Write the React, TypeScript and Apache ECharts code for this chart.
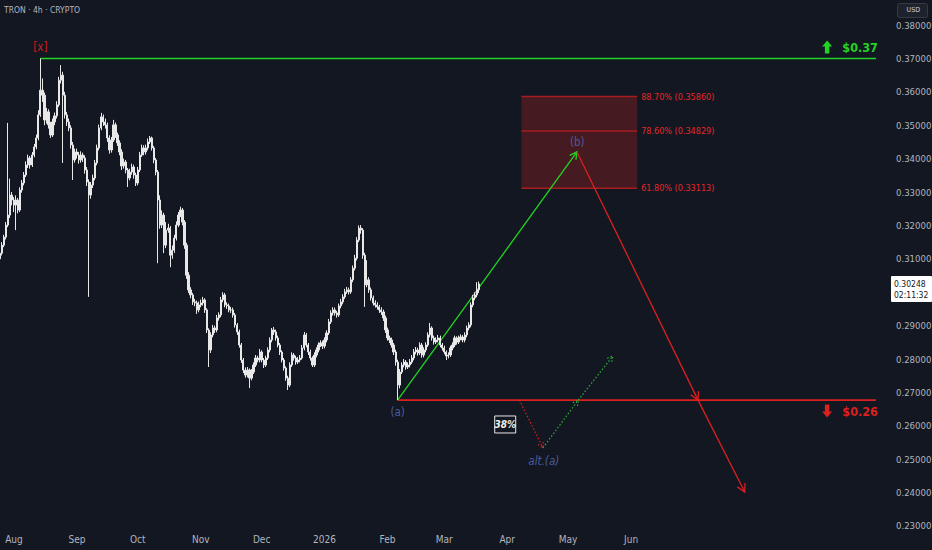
import React, { useEffect, useRef } from "react";
import * as echarts from "echarts";

// ---------------- data ----------------
const DAY = 86400000;
const START_DATE = "2025-07-25";
const FIRST_OPEN = 0.31;

const closes = [
  0.3117, 0.3141, 0.3165, 0.3201, 0.3231, 0.3291, 0.3276,
  0.3261, 0.3276, 0.3246, 0.3306, 0.3327, 0.3351, 0.3381, 0.3402, 0.3381, 0.3411,
  0.3435, 0.3462, 0.3531, 0.3605, 0.3590, 0.3516, 0.3540, 0.3501, 0.3471, 0.3510,
  0.3528, 0.3561, 0.3635, 0.3650, 0.3590, 0.3531, 0.3510, 0.3492, 0.3441, 0.3396,
  0.3420, 0.3411, 0.3396, 0.3411, 0.3402, 0.3366, 0.3330, 0.3291, 0.3321, 0.3342,
  0.3387, 0.3432, 0.3492, 0.3525, 0.3510, 0.3501, 0.3462, 0.3426, 0.3456, 0.3501,
  0.3471, 0.3447, 0.3420, 0.3378, 0.3390, 0.3366, 0.3342, 0.3360, 0.3375, 0.3351,
  0.3327, 0.3366, 0.3411, 0.3432, 0.3420, 0.3432, 0.3450, 0.3462, 0.3432, 0.3396,
  0.3360, 0.3276, 0.3201, 0.3231, 0.3141, 0.3186, 0.3192, 0.3111, 0.3126, 0.3162,
  0.3201, 0.3231, 0.3246, 0.3210, 0.3141, 0.3051, 0.3007, 0.2992, 0.2971, 0.2968,
  0.2947, 0.2962, 0.2968, 0.2977, 0.2947, 0.2887, 0.2827, 0.2872, 0.2893, 0.2887,
  0.2923, 0.2932, 0.2977, 0.2992, 0.2962, 0.2959, 0.2947, 0.2947, 0.2932, 0.2902,
  0.2881, 0.2842, 0.2797, 0.2767, 0.2752, 0.2767, 0.2743, 0.2761, 0.2782, 0.2803,
  0.2797, 0.2821, 0.2797, 0.2782, 0.2803, 0.2827, 0.2857, 0.2887, 0.2881, 0.2863,
  0.2842, 0.2821, 0.2797, 0.2773, 0.2743, 0.2722, 0.2782, 0.2812, 0.2803, 0.2791,
  0.2797, 0.2803, 0.2833, 0.2872, 0.2842, 0.2821, 0.2803, 0.2782, 0.2812, 0.2827,
  0.2842, 0.2848, 0.2839, 0.2857, 0.2878, 0.2911, 0.2938, 0.2947, 0.2938, 0.2932,
  0.2959, 0.2971, 0.2986, 0.3001, 0.3007, 0.3001, 0.3037, 0.3072, 0.3102, 0.3156,
  0.3192, 0.3186, 0.3111, 0.3022, 0.3037, 0.3007, 0.2983, 0.2968, 0.2962, 0.2956,
  0.2947, 0.2941, 0.2923, 0.2887, 0.2863, 0.2857, 0.2842, 0.2821, 0.2791, 0.2722,
  0.2761, 0.2782, 0.2791, 0.2776, 0.2782, 0.2791, 0.2803, 0.2821, 0.2827, 0.2818,
  0.2842, 0.2812, 0.2827, 0.2842, 0.2872, 0.2893, 0.2863, 0.2851, 0.2857, 0.2863,
  0.2842, 0.2833, 0.2821, 0.2809, 0.2812, 0.2833, 0.2842, 0.2863, 0.2851, 0.2863,
  0.2866, 0.2857, 0.2872, 0.2893, 0.2902, 0.2962, 0.2983, 0.2992, 0.3007, 0.30248,
];

const highs = [
  0.3125, 0.3150, 0.3172, 0.3210, 0.3507, 0.3340, 0.3300,
  0.3285, 0.3290, 0.3282, 0.3314, 0.3336, 0.3360, 0.3392, 0.3412, 0.3408, 0.3420,
  0.3444, 0.3472, 0.3545, 0.3700, 0.3640, 0.3598, 0.3552, 0.3548, 0.3510, 0.3520,
  0.3538, 0.3572, 0.3645, 0.3680, 0.3660, 0.3600, 0.3540, 0.3520, 0.3500, 0.3450,
  0.3430, 0.3430, 0.3420, 0.3422, 0.3418, 0.3410, 0.3375, 0.3338, 0.3330, 0.3352,
  0.3396, 0.3442, 0.3502, 0.3537, 0.3532, 0.3520, 0.3508, 0.3470, 0.3465, 0.3516,
  0.3508, 0.3478, 0.3455, 0.3428, 0.3400, 0.3396, 0.3372, 0.3370, 0.3385, 0.3382,
  0.3358, 0.3375, 0.3420, 0.3442, 0.3440, 0.3442, 0.3460, 0.3468, 0.3466, 0.3438,
  0.3402, 0.3366, 0.3290, 0.3245, 0.3238, 0.3210, 0.3205, 0.3198, 0.3140, 0.3172,
  0.3212, 0.3240, 0.3256, 0.3252, 0.3216, 0.3148, 0.3060, 0.3015, 0.2998, 0.2980,
  0.2975, 0.2972, 0.2978, 0.2986, 0.2982, 0.2952, 0.2892, 0.2880, 0.2902, 0.2900,
  0.2932, 0.2940, 0.2986, 0.3000, 0.2998, 0.2970, 0.2966, 0.2956, 0.2954, 0.2938,
  0.2908, 0.2888, 0.2848, 0.2803, 0.2775, 0.2776, 0.2772, 0.2770, 0.2790, 0.2812,
  0.2810, 0.2830, 0.2826, 0.2803, 0.2810, 0.2835, 0.2865, 0.2893, 0.2896, 0.2888,
  0.2870, 0.2848, 0.2826, 0.2803, 0.2778, 0.2750, 0.2790, 0.2820, 0.2818, 0.2810,
  0.2806, 0.2812, 0.2842, 0.2881, 0.2878, 0.2848, 0.2828, 0.2808, 0.2820, 0.2835,
  0.2850, 0.2856, 0.2855, 0.2865, 0.2886, 0.2920, 0.2946, 0.2955, 0.2954, 0.2944,
  0.2966, 0.2980, 0.2994, 0.3010, 0.3016, 0.3014, 0.3045, 0.3080, 0.3112, 0.3165,
  0.3200, 0.3201, 0.3192, 0.3118, 0.3096, 0.3045, 0.3014, 0.2990, 0.2976, 0.2970,
  0.2962, 0.2955, 0.2948, 0.2930, 0.2894, 0.2870, 0.2864, 0.2848, 0.2828, 0.2798,
  0.2770, 0.2790, 0.2800, 0.2797, 0.2790, 0.2800, 0.2812, 0.2830, 0.2836, 0.2834,
  0.2850, 0.2848, 0.2835, 0.2850, 0.2880, 0.2908, 0.2898, 0.2870, 0.2865, 0.2872,
  0.2870, 0.2848, 0.2840, 0.2826, 0.2820, 0.2840, 0.2850, 0.2870, 0.2868, 0.2870,
  0.2874, 0.2872, 0.2880, 0.2900, 0.2910, 0.2970, 0.2992, 0.3000, 0.3030, 0.3032,
];

const lows = [
  0.3092, 0.3110, 0.3135, 0.3158, 0.3195, 0.3222, 0.3260,
  0.3240, 0.3186, 0.3236, 0.3240, 0.3298, 0.3320, 0.3345, 0.3372, 0.3370, 0.3375,
  0.3404, 0.3428, 0.3455, 0.3525, 0.3570, 0.3500, 0.3505, 0.3490, 0.3462, 0.3465,
  0.3500, 0.3520, 0.3555, 0.3625, 0.3387, 0.3520, 0.3498, 0.3482, 0.3430, 0.3336,
  0.3388, 0.3400, 0.3385, 0.3388, 0.3390, 0.3355, 0.3318, 0.2986, 0.3280, 0.3312,
  0.3335, 0.3380, 0.3425, 0.3485, 0.3498, 0.3490, 0.3450, 0.3415, 0.3418, 0.3450,
  0.3462, 0.3438, 0.3410, 0.3366, 0.3370, 0.3356, 0.3315, 0.3335, 0.3352, 0.3340,
  0.3318, 0.3320, 0.3360, 0.3405, 0.3410, 0.3412, 0.3425, 0.3444, 0.3424, 0.3386,
  0.3350, 0.3087, 0.3190, 0.3192, 0.3117, 0.3132, 0.3178, 0.3075, 0.3100, 0.3118,
  0.3155, 0.3195, 0.3225, 0.3200, 0.3130, 0.3040, 0.2998, 0.2982, 0.2962, 0.2958,
  0.2935, 0.2940, 0.2955, 0.2960, 0.2938, 0.2878, 0.2776, 0.2818, 0.2865, 0.2878,
  0.2880, 0.2915, 0.2925, 0.2970, 0.2955, 0.2950, 0.2940, 0.2938, 0.2924, 0.2894,
  0.2872, 0.2834, 0.2788, 0.2758, 0.2744, 0.2745, 0.2713, 0.2736, 0.2755, 0.2776,
  0.2790, 0.2790, 0.2790, 0.2773, 0.2776, 0.2797, 0.2820, 0.2850, 0.2872, 0.2855,
  0.2835, 0.2812, 0.2790, 0.2765, 0.2735, 0.2707, 0.2716, 0.2776, 0.2795, 0.2783,
  0.2785, 0.2790, 0.2798, 0.2826, 0.2835, 0.2812, 0.2795, 0.2776, 0.2776, 0.2805,
  0.2820, 0.2836, 0.2830, 0.2832, 0.2850, 0.2872, 0.2905, 0.2930, 0.2930, 0.2924,
  0.2926, 0.2952, 0.2964, 0.2980, 0.2995, 0.2993, 0.2995, 0.3030, 0.3065, 0.3095,
  0.3150, 0.3175, 0.3100, 0.2956, 0.3015, 0.2998, 0.2975, 0.2960, 0.2954, 0.2948,
  0.2938, 0.2932, 0.2914, 0.2878, 0.2855, 0.2848, 0.2834, 0.2812, 0.2780, 0.2677,
  0.2712, 0.2755, 0.2775, 0.2768, 0.2770, 0.2775, 0.2785, 0.2796, 0.2814, 0.2810,
  0.2812, 0.2804, 0.2805, 0.2820, 0.2836, 0.2865, 0.2855, 0.2843, 0.2845, 0.2850,
  0.2835, 0.2825, 0.2814, 0.2797, 0.2802, 0.2806, 0.2826, 0.2836, 0.2843, 0.2845,
  0.2856, 0.2850, 0.2850, 0.2865, 0.2886, 0.2895, 0.2955, 0.2976, 0.2985, 0.2998,
];

const LAST_PRICE = 0.30248;
const COUNTDOWN = "02:11:32";
const TITLE = "TRON · 4h · CRYPTO";
const CURRENCY = "USD";

const X_RANGE = ["2025-07-25T02:30:00Z", "2026-10-05T14:00:00Z"];
const Y_RANGE = [0.2294, 0.3875];
const xTickDates = [
  "2025-08-01", "2025-09-01", "2025-10-01", "2025-11-01", "2025-12-01", "2026-01-01",
  "2026-02-01", "2026-03-01", "2026-04-01", "2026-05-01", "2026-06-01",
];
const xTickLabels = ["Aug", "Sep", "Oct", "Nov", "Dec", "2026", "Feb", "Mar", "Apr", "May", "Jun"];
// 0.30000 is hidden under the last-price tag in the reference
const yTicks = [0.38, 0.37, 0.36, 0.35, 0.34, 0.33, 0.32, 0.31, 0.29, 0.28, 0.27, 0.26, 0.25, 0.24, 0.23];

// horizontal levels: resistance (green) and support (red)
const levelPrices = [0.37, 0.2677];
const levelStarts = ["2025-08-14", "2026-02-06"];
const LEVEL_END = "2026-09-29T16:00:00Z";

// fibonacci zone
const fibRatios = ["88.70%", "78.60%", "61.80%"];
const fibPrices = [0.3586, 0.34829, 0.33113];
const fibZone = ["2026-04-08", "2026-06-04"];

// main projected path (a) -> (b) -> down
const projectionPath: [string, number][] = [
  ["2026-02-06", 0.2677],
  ["2026-05-05T08:00:00Z", 0.342],
  ["2026-07-04", 0.2677],
  ["2026-07-27", 0.2402],
];
// alternative path (dotted)
const altPath: [string, number][] = [
  ["2026-04-07", 0.2677],
  ["2026-04-18T14:00:00Z", 0.2534],
  ["2026-05-06", 0.2677],
  ["2026-05-23", 0.2809],
];

const waveLabelTexts = ["[x]", "(a)", "(b)", "alt.(a)"];
const waveLabelDates = ["2025-08-14", "2026-02-06", "2026-05-05T12:00:00Z", "2026-04-19"];
const waveLabelPrices = [0.3733, 0.2641, 0.345, 0.2495];

const ALT_PROBABILITY = "38%";
const altProbDate = "2026-03-31";
const altProbPrice = 0.2604;

const targetTexts = ["$0.37", "$0.26"];
const targetLabelPrices = [0.3734, 0.2644];
const TARGET_ARROW_DATE = "2026-09-05T14:00:00Z";
const TARGET_TEXT_DATE = "2026-09-21T20:00:00Z";

// ---------------- styles ----------------
const BG = "#131722";
const GREEN = "#22d422";
const RED = "#dc1f1f";
const FIB_LINE = "#a61d1f";
const FIB_FILL = "#461a21";
const FIB_TEXT = "#e82626";
const WAVE_BLUE = "#4a5c9c";
const WAVE_RED = "#c81e1e";
const CANDLE = "#e8e8e8";
const AXIS_TEXT = "#b2b5be";
const NARROW = "'Liberation Sans Narrow','DejaVu Sans Condensed','Roboto Condensed',Roboto,sans-serif";

const T = (s: string) => Date.parse(s);

export default function App() {
  const ref = useRef<HTMLDivElement>(null);

  useEffect(() => {
    const chart = echarts.init(ref.current!, null, { renderer: "svg" });
    const t0 = T(START_DATE);
    const candles = closes.map((c, i) => [
      t0 + i * DAY,
      i === 0 ? FIRST_OPEN : closes[i - 1],
      c,
      lows[i],
      highs[i],
    ]);

    const xTickValues = xTickDates.map(T);

    // segments: [t1, p1, t2, p2, styleIdx]
    const segStyles = [
      { color: GREEN, width: 1.3, dash: null as any, head: 8 },
      { color: RED, width: 1.3, dash: null as any, head: 9 },
      { color: RED, width: 1.2, dash: [1.5, 2], head: 6 },
      { color: "#2fae3a", width: 1.2, dash: [1.5, 2], head: 6 },
    ];
    const segments: number[][] = [];
    for (let i = 0; i < projectionPath.length - 1; i++) {
      segments.push([
        T(projectionPath[i][0]), projectionPath[i][1],
        T(projectionPath[i + 1][0]), projectionPath[i + 1][1],
        i === 0 ? 0 : 1,
      ]);
    }
    for (let i = 0; i < altPath.length - 1; i++) {
      segments.push([
        T(altPath[i][0]), altPath[i][1],
        T(altPath[i + 1][0]), altPath[i + 1][1],
        i === 0 ? 2 : 3,
      ]);
    }

    const levelColors = [GREEN, RED];

    const option: any = {
      animation: false,
      backgroundColor: BG,
      grid: { left: 0, right: 44, top: 0, bottom: 22, containLabel: false, outerBoundsMode: "none" },
      xAxis: {
        type: "value",
        min: T(X_RANGE[0]),
        max: T(X_RANGE[1]),
        axisLine: { show: false },
        axisTick: { show: false },
        splitLine: { show: false },
        axisLabel: {
          customValues: xTickValues,
          formatter: (v: number) => {
            const k = xTickValues.indexOf(v);
            return k >= 0 ? xTickLabels[k] : "";
          },
          color: AXIS_TEXT,
          fontSize: 10,
          fontFamily: NARROW,
          margin: 6,
        },
      },
      yAxis: {
        type: "value",
        position: "right",
        min: Y_RANGE[0],
        max: Y_RANGE[1],
        axisLine: { show: false },
        axisTick: { show: false },
        splitLine: { show: false },
        axisLabel: {
          customValues: yTicks,
          formatter: (v: number) => v.toFixed(5),
          color: AXIS_TEXT,
          fontSize: 9.5,
          fontFamily: NARROW,
          margin: 8,
        },
      },
      graphic: [
        {
          type: "text",
          left: 4,
          top: 5,
          style: { text: TITLE, fill: AXIS_TEXT, fontSize: 8.5, fontFamily: NARROW },
        },
        {
          type: "rect",
          right: 4,
          top: 3,
          shape: { width: 30, height: 14, r: 2 },
          style: { fill: "#1e222d", stroke: "#363a45", lineWidth: 1 },
        },
        {
          type: "text",
          right: 12,
          top: 6.5,
          style: { text: CURRENCY, fill: "#d1d4dc", fontSize: 7, fontFamily: NARROW },
        },
      ],
      series: [
        {
          type: "candlestick",
          silent: true,
          data: candles,
          encode: { x: 0, y: [1, 2, 3, 4] },
          barWidth: 1.7,
          itemStyle: {
            color: CANDLE,
            color0: CANDLE,
            borderColor: CANDLE,
            borderColor0: CANDLE,
            borderWidth: 1,
          },
        },
        {
          type: "custom",
          silent: true,
          data: levelPrices.map((p, i) => [T(levelStarts[i]), T(LEVEL_END), p]),
          encode: { x: [0, 1], y: 2 },
          renderItem: (params: any, api: any) => {
            const a = api.coord([api.value(0), api.value(2)]);
            const b = api.coord([api.value(1), api.value(2)]);
            return {
              type: "line",
              shape: { x1: a[0], y1: a[1], x2: b[0], y2: b[1] },
              style: { stroke: levelColors[params.dataIndex], lineWidth: 1.6 },
            };
          },
        },
        {
          type: "custom",
          silent: true,
          data: [[T(fibZone[0]), T(fibZone[1]), ...fibPrices]],
          encode: { x: [0, 1], y: [2, 3, 4] },
          renderItem: (_params: any, api: any) => {
            const x1 = api.coord([api.value(0), fibPrices[0]])[0];
            const x2 = api.coord([api.value(1), fibPrices[0]])[0];
            const ys = fibPrices.map((_, k) => api.coord([api.value(0), api.value(2 + k)])[1]);
            const top = Math.min(...ys);
            const bot = Math.max(...ys);
            const children: any[] = [
              {
                type: "rect",
                shape: { x: x1, y: top, width: x2 - x1, height: bot - top },
                style: { fill: FIB_FILL },
              },
            ];
            ys.forEach((y, k) => {
              children.push({
                type: "line",
                shape: { x1, y1: y, x2, y2: y },
                style: { stroke: FIB_LINE, lineWidth: 1.5 },
              });
              children.push({
                type: "text",
                x: x2 + 4,
                y,
                style: {
                  text: `${fibRatios[k]} (${fibPrices[k].toFixed(5)})`,
                  fill: FIB_TEXT,
                  fontSize: 9,
                  fontFamily: NARROW,
                  align: "left",
                  verticalAlign: "middle",
                },
              });
            });
            return { type: "group", children };
          },
        },
        {
          type: "custom",
          silent: true,
          data: segments,
          encode: { x: [0, 2], y: [1, 3] },
          renderItem: (_params: any, api: any) => {
            const a = api.coord([api.value(0), api.value(1)]);
            const b = api.coord([api.value(2), api.value(3)]);
            const s = segStyles[api.value(4)];
            const ang = Math.atan2(b[1] - a[1], b[0] - a[0]);
            const w = 0.5;
            const h1 = [b[0] - s.head * Math.cos(ang - w), b[1] - s.head * Math.sin(ang - w)];
            const h2 = [b[0] - s.head * Math.cos(ang + w), b[1] - s.head * Math.sin(ang + w)];
            return {
              type: "group",
              children: [
                {
                  type: "line",
                  shape: { x1: a[0], y1: a[1], x2: b[0], y2: b[1] },
                  style: { stroke: s.color, lineWidth: s.width, lineDash: s.dash },
                },
                {
                  type: "polyline",
                  shape: { points: [h1, b, h2] },
                  style: { stroke: s.color, lineWidth: s.width, fill: null, lineDash: s.dash },
                },
              ],
            };
          },
        },
        {
          type: "custom",
          silent: true,
          data: waveLabelTexts.map((_, i) => [T(waveLabelDates[i]), waveLabelPrices[i]]),
          encode: { x: 0, y: 1 },
          renderItem: (params: any, api: any) => {
            const p = api.coord([api.value(0), api.value(1)]);
            const i = params.dataIndex;
            return {
              type: "text",
              x: p[0],
              y: p[1],
              style: {
                text: waveLabelTexts[i],
                fill: i === 0 ? WAVE_RED : WAVE_BLUE,
                fontSize: 11.5,
                fontStyle: i === 3 ? "italic" : "normal",
                fontFamily: NARROW,
                align: "center",
                verticalAlign: "middle",
              },
            };
          },
        },
        {
          type: "custom",
          silent: true,
          data: [[T(altProbDate), altProbPrice]],
          encode: { x: 0, y: 1 },
          renderItem: (_params: any, api: any) => {
            const p = api.coord([api.value(0), api.value(1)]);
            return {
              type: "group",
              children: [
                {
                  type: "rect",
                  shape: { x: p[0] - 10.5, y: p[1] - 8.5, width: 21, height: 17 },
                  style: { fill: BG, stroke: "#e8e8e8", lineWidth: 1 },
                },
                {
                  type: "text",
                  x: p[0],
                  y: p[1],
                  style: {
                    text: ALT_PROBABILITY,
                    fill: "#f0f0f0",
                    fontSize: 10,
                    fontStyle: "italic",
                    fontWeight: "bold",
                    fontFamily: NARROW,
                    align: "center",
                    verticalAlign: "middle",
                  },
                },
              ],
            };
          },
        },
        {
          type: "custom",
          silent: true,
          data: targetTexts.map((_, i) => [T(TARGET_ARROW_DATE), T(TARGET_TEXT_DATE), targetLabelPrices[i]]),
          encode: { x: [0, 1], y: 2 },
          renderItem: (params: any, api: any) => {
            const i = params.dataIndex;
            const a = api.coord([api.value(0), api.value(2)]);
            const t = api.coord([api.value(1), api.value(2)]);
            const color = i === 0 ? GREEN : RED;
            const d = i === 0 ? 1 : -1;
            const cx = a[0];
            const cy = a[1];
            const pts = [
              [cx, cy - 6.5 * d],
              [cx + 5, cy - 0.5 * d],
              [cx + 2.2, cy - 0.5 * d],
              [cx + 2.2, cy + 6.5 * d],
              [cx - 2.2, cy + 6.5 * d],
              [cx - 2.2, cy - 0.5 * d],
              [cx - 5, cy - 0.5 * d],
            ];
            return {
              type: "group",
              children: [
                { type: "polygon", shape: { points: pts }, style: { fill: color } },
                {
                  type: "text",
                  x: t[0],
                  y: t[1],
                  style: {
                    text: targetTexts[i],
                    fill: color,
                    fontSize: 12.5,
                    fontWeight: "bold",
                    fontFamily: NARROW,
                    align: "center",
                    verticalAlign: "middle",
                  },
                },
              ],
            };
          },
        },
        {
          type: "custom",
          silent: true,
          data: [[T(X_RANGE[1]), LAST_PRICE]],
          encode: { x: 0, y: 1 },
          renderItem: (params: any, api: any) => {
            const cs = params.coordSys;
            const y = api.coord([api.value(0), api.value(1)])[1];
            const x0 = cs.x + cs.width + 3;
            return {
              type: "group",
              children: [
                {
                  type: "rect",
                  shape: { x: x0, y: y - 8, width: 41, height: 26, r: 1 },
                  style: { fill: "#ffffff" },
                },
                {
                  type: "text",
                  x: x0 + 3,
                  y: y - 6,
                  style: {
                    text: `${LAST_PRICE.toFixed(5)}\n${COUNTDOWN}`,
                    fill: "#131722",
                    fontSize: 8.5,
                    lineHeight: 11.5,
                    fontFamily: NARROW,
                    align: "left",
                    verticalAlign: "top",
                  },
                },
              ],
            };
          },
        },
      ],
    };

    chart.setOption(option);
    return () => chart.dispose();
  }, []);

  return (
    <div
      ref={ref}
      style={{ position: "fixed", left: 0, top: 0, width: 932, height: 550, background: BG }}
    />
  );
}
